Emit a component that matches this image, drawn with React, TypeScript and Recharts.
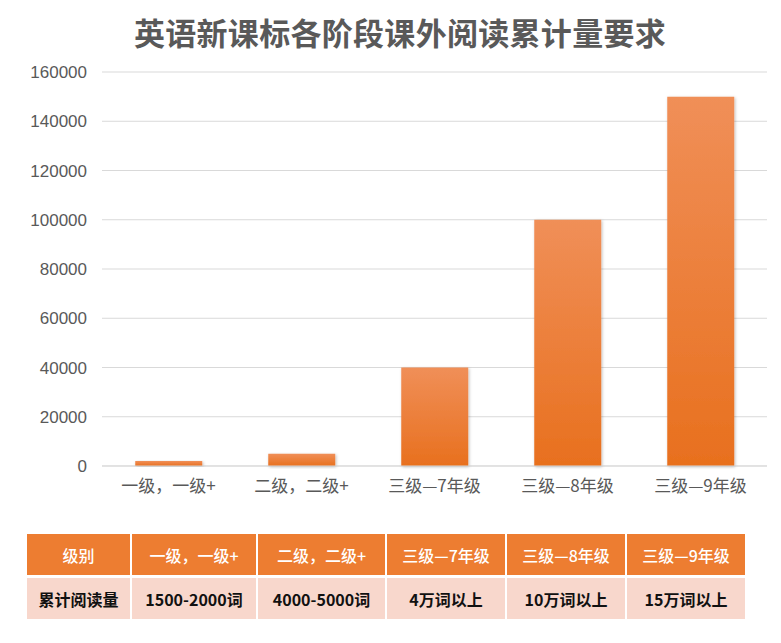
import { Bar, BarChart, CartesianGrid, XAxis, YAxis } from "recharts";

const stages = ["一级，一级+", "二级，二级+", "三级—7年级", "三级—8年级", "三级—9年级"];
const readingTotals = [2000, 5000, 40000, 100000, 150000];
const yTicks = [0, 20000, 40000, 60000, 80000, 100000, 120000, 140000, 160000];
const tableHeader = ["级别", ...stages];
const tableRow = ["累计阅读量", "1500-2000词", "4000-5000词", "4万词以上", "10万词以上", "15万词以上"];
const colWidths = [103, 124, 127, 118, 118, 118];

const font = '"Noto Sans CJK SC", "Noto Sans", sans-serif';

export default function App() {
  const data = stages.map((stage, i) => ({ stage, total: readingTotals[i] }));

  return (
    <div style={{ position: "absolute", left: 0, top: 0, width: 781, height: 643, background: "#fff", fontFamily: font }}>
      <div style={{ position: "absolute", top: 16, left: 0, width: 800, textAlign: "center", fontSize: 31, lineHeight: 1, fontWeight: 700, color: "#595959", letterSpacing: 0.3 }}>
        英语新课标各阶段课外阅读累计量要求
      </div>
      <BarChart width={781} height={512} data={data} margin={{ top: 72, right: 14, bottom: 14, left: 0 }} barCategoryGap="25%">
        <defs>
          <linearGradient id="barFill" x1="0" y1="0" x2="0" y2="1">
            <stop offset="0%" stopColor="#f08f58" />
            <stop offset="100%" stopColor="#e8701e" />
          </linearGradient>
          <filter id="barShadow" x="-10%" y="-10%" width="130%" height="130%">
            <feDropShadow dx="1" dy="1" stdDeviation="1.5" floodColor="#000" floodOpacity="0.25" />
          </filter>
        </defs>
        <CartesianGrid vertical={false} stroke="#d9d9d9" />
        <XAxis
          dataKey="stage"
          height={32}
          tickLine={false}
          axisLine={{ stroke: "#d9d9d9" }}
          tick={{ fontSize: 17, fill: "#595959", fontFamily: font }}
          tickMargin={8}
          interval={0}
        />
        <YAxis
          width={102}
          domain={[0, 160000]}
          ticks={yTicks}
          axisLine={false}
          tickLine={false}
          tickMargin={9}
          tick={{ fontSize: 17, fill: "#595959", fontFamily: "Liberation Sans, Arial, sans-serif" }}
        />
        <Bar dataKey="total" fill="url(#barFill)" filter="url(#barShadow)" isAnimationActive={false} />
      </BarChart>
      <table
        style={{
          position: "absolute",
          left: 25,
          top: 531,
          borderCollapse: "separate",
          borderSpacing: "2px 3px",
          fontFamily: font,
        }}
      >
        <tbody>
          <tr style={{ height: 41 }}>
            {tableHeader.map((h, i) => (
              <td key={h} style={{ width: colWidths[i], background: "#ed7d31", color: "#fff", textAlign: "center", fontWeight: 500, fontSize: 16, padding: 0 }}>
                {h}
              </td>
            ))}
          </tr>
          <tr style={{ height: 41 }}>
            {tableRow.map((c, i) => (
              <td key={c} style={{ width: colWidths[i], background: "#f8d7cc", color: "#111", textAlign: "center", fontWeight: 700, fontSize: 16, padding: 0 }}>
                {c}
              </td>
            ))}
          </tr>
        </tbody>
      </table>
    </div>
  );
}
